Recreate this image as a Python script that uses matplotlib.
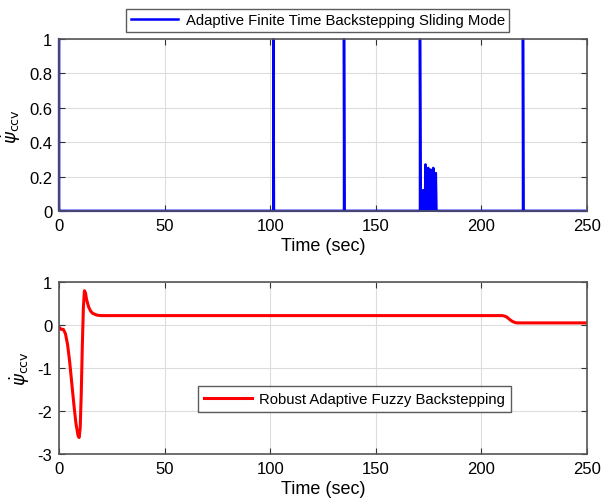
#!/usr/bin/env python3
# Yaw rate comparison: finite time sliding mode vs fuzzy backstepping

import matplotlib
matplotlib.use('Agg')
import matplotlib.pyplot as plt

plt.rcParams['font.family'] = ['Liberation Sans', 'DejaVu Sans']
plt.rcParams['axes.unicode_minus'] = False

# top series (vertical spikes + chattering burst near 171-179 s)
T_SMC = [0, 0, 0.2, 101.5, 101.5, 101.8, 135.0, 135.0, 135.2,
         171.0, 171.0, 171.3, 171.5, 172.0, 172.4, 172.8, 173.1, 173.3,
         173.6, 173.9, 174.2, 174.6, 174.9, 175.2, 175.5, 175.8, 176.1,
         176.4, 176.7, 177.0, 177.3, 177.6, 177.9, 178.2, 178.5, 178.8,
         219.8, 219.8, 220.0, 250.0]
Y_SMC = [1.0, 0, 0, 0, 1.0, 0, 0, 1.0, 0,
         0, 1.0, 0, 0.12, 0, 0.12, 0, 0.12, 0,
         0.27, 0, 0.18, 0, 0.25, 0, 0.21, 0, 0.24,
         0, 0.20, 0, 0.25, 0, 0.22, 0, 0.22, 0,
         0, 1.0, 0, 0]

# bottom series
T_FUZZY = [0, 1, 2, 3, 4, 5, 6, 7, 8, 9, 9.5, 10, 10.5, 11, 11.5, 12, 12.5,
           13, 14, 15, 16, 18, 20, 210, 211, 212, 213, 214, 215, 216, 217,
           250]
Y_FUZZY = [-0.05, -0.1, -0.1, -0.2, -0.45, -0.85, -1.35, -1.85, -2.3, -2.58,
           -2.62, -2.4, -1.6, -0.5, 0.4, 0.8, 0.75, 0.6, 0.42, 0.32, 0.27,
           0.23, 0.22, 0.22, 0.21, 0.19, 0.15, 0.11, 0.08, 0.06, 0.05, 0.05]

X_TICKS = [0, 50, 100, 150, 200, 250]
TOP_Y_TICKS = [0, 0.2, 0.4, 0.6, 0.8, 1]
BOTTOM_Y_TICKS = [-3, -2, -1, 0, 1]

YLABEL = r'$\dot{\psi}_{\rm ccv}$'


def style_axes(ax):
    """
    MATLAB-like look: grey box, inward ticks on all sides, light grid.
    """
    ax.grid(True, color='#dddddd', linewidth=0.8)
    ax.set_axisbelow(True)
    for s in ax.spines.values():
        s.set_color('#555555')
        s.set_linewidth(1.2)
    ax.tick_params(direction='in', top=True, right=True, length=4,
                   labelsize=12, color='#333333', pad=5)
    ax.set_xlim(0, 250)
    ax.set_xticks(X_TICKS)
    ax.set_xlabel('Time (sec)', fontsize=13, labelpad=3)
    ax.set_ylabel(YLABEL, fontsize=13, labelpad=4)


def main():
    fig = plt.figure(figsize=(6.03, 5.02), dpi=100)
    ax1 = fig.add_axes([0.098, 0.578, 0.875, 0.342])
    ax2 = fig.add_axes([0.098, 0.094, 0.875, 0.342])

    ax1.plot(T_SMC, Y_SMC, color='#0000ff', linewidth=1.8, clip_on=False,
             label='Adaptive Finite Time Backstepping Sliding Mode')
    style_axes(ax1)
    ax1.set_ylim(0, 1)
    ax1.set_yticks(TOP_Y_TICKS)
    ax1.set_yticklabels(['0', '0.2', '0.4', '0.6', '0.8', '1'])
    leg1 = ax1.legend(loc='lower center', bbox_to_anchor=(0.49, 1.0),
                      fontsize=10.7, frameon=True, fancybox=False,
                      handlelength=3.2, borderpad=0.3, handletextpad=0.5)
    leg1.get_frame().set_edgecolor('#333333')
    leg1.get_frame().set_linewidth(1.0)

    ax2.plot(T_FUZZY, Y_FUZZY, color='#ff0000', linewidth=2.2,
             label='Robust Adaptive Fuzzy Backstepping')
    style_axes(ax2)
    ax2.set_ylim(-3, 1)
    ax2.set_yticks(BOTTOM_Y_TICKS)
    leg2 = ax2.legend(loc='center', bbox_to_anchor=(0.56, 0.32),
                      fontsize=10.7, frameon=True, fancybox=False,
                      handlelength=3.2, borderpad=0.4, handletextpad=0.5)
    leg2.get_frame().set_edgecolor('#333333')
    leg2.get_frame().set_linewidth(1.0)

    fig.savefig('out.png', dpi=100)


if __name__ == '__main__':
    main()
